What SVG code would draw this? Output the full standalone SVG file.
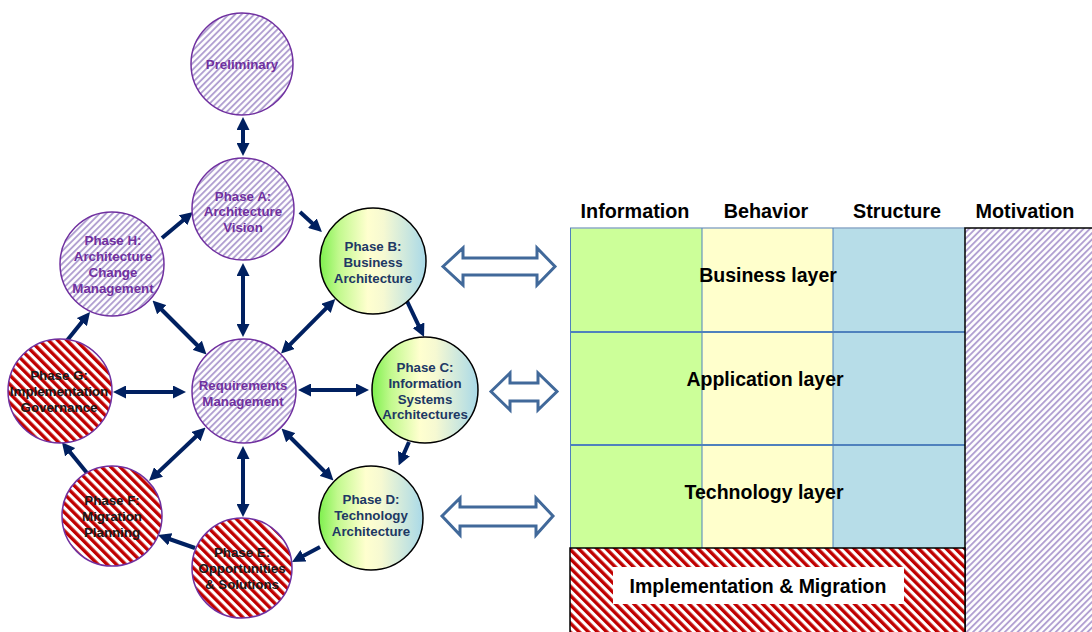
<svg xmlns="http://www.w3.org/2000/svg" width="1092" height="632" viewBox="0 0 1092 632">
<style>
text{font-family:"Liberation Sans",Arial,sans-serif;font-weight:bold;text-anchor:middle}
.pt{fill:#7030a0;font-size:13.3px}
.rt{fill:#1a1a1a;font-size:13.3px}
.gt{fill:#203864;font-size:13.3px}
.pc{fill:url(#purpleHatch);stroke:#7030a0;stroke-width:1.5}
.rc{fill:url(#redHatch);stroke:#7030a0;stroke-width:1.5}
.gc{fill:url(#grad);stroke:#000;stroke-width:1.5}
.ar{stroke:#002060;stroke-width:4;fill:none;marker-end:url(#ah)}
.dar{stroke:#002060;stroke-width:4;fill:none;marker-end:url(#ah);marker-start:url(#ahs)}
.blk{fill:#fff;stroke:#41699a;stroke-width:3;stroke-linejoin:miter}
.hdr{font-size:19.8px;fill:#000}
.lay{font-size:19.5px;fill:#000}
</style>
<defs>
<pattern id="purpleHatch" width="4.5" height="4.5" patternUnits="userSpaceOnUse" patternTransform="rotate(45)">
<rect width="4.5" height="4.5" fill="#fff"/>
<line x1="1" y1="0" x2="1" y2="4.5" stroke="#ad9bcf" stroke-width="1.8"/>
</pattern>
<pattern id="redHatch" width="6.5" height="6.5" patternUnits="userSpaceOnUse" patternTransform="rotate(-45)">
<rect width="6.5" height="6.5" fill="#fff"/>
<line x1="1.7" y1="0" x2="1.7" y2="6.5" stroke="#c00000" stroke-width="3.4"/>
</pattern>
<linearGradient id="grad" x1="0" y1="0" x2="1" y2="0">
<stop offset="0" stop-color="#7ef04e"/>
<stop offset="0.18" stop-color="#c2f98e"/>
<stop offset="0.45" stop-color="#ffffcf"/>
<stop offset="0.6" stop-color="#f6f9d2"/>
<stop offset="1" stop-color="#a9d9e8"/>
</linearGradient>
<marker id="ah" markerUnits="userSpaceOnUse" markerWidth="13" markerHeight="13" refX="1" refY="6.5" orient="auto">
<path d="M0,0 L13,6.5 L0,13 z" fill="#002060"/>
</marker>
<marker id="ahs" markerUnits="userSpaceOnUse" markerWidth="13" markerHeight="13" refX="1" refY="6.5" orient="auto-start-reverse">
<path d="M0,0 L13,6.5 L0,13 z" fill="#002060"/>
</marker>
</defs>

<g id="connectors">
<line class="dar" x1="243" y1="129" x2="243" y2="144"/>
<line class="ar" x1="162" y1="238" x2="183.8" y2="219.7"/>
<line class="ar" x1="300" y1="212" x2="313.1" y2="223.9"/>
<line class="ar" x1="406" y1="299" x2="418.9" y2="326.1"/>
<line class="ar" x1="409" y1="442" x2="403.5" y2="454.5"/>
<line class="ar" x1="320" y1="547" x2="302.6" y2="556.3"/>
<line class="ar" x1="195" y1="548" x2="169.3" y2="539"/>
<line class="ar" x1="87" y1="473" x2="69.5" y2="451.5"/>
<line class="ar" x1="65" y1="343" x2="82.5" y2="321.3"/>
<line class="dar" x1="243" y1="275" x2="243" y2="325"/>
<line class="dar" x1="161" y1="309" x2="198" y2="346"/>
<line class="dar" x1="289.5" y1="345.1" x2="326.8" y2="307.6"/>
<line class="dar" x1="125" y1="392" x2="174" y2="392"/>
<line class="dar" x1="310" y1="390" x2="357" y2="390"/>
<line class="dar" x1="196.8" y1="435.8" x2="157.8" y2="472.6"/>
<line class="dar" x1="243" y1="458" x2="243" y2="505"/>
<line class="dar" x1="290" y1="437" x2="325" y2="472"/>
<polygon class="blk" points="443,266.5 463,248 463,258 537,258 537,248 555,266.5 537,285 537,275 463,275 463,285"/>
<polygon class="blk" points="491,391.5 510,373 510,383 538,383 538,373 557,391.5 538,410 538,401 510,401 510,410"/>
<polygon class="blk" points="442,516 460,498 460,507 536,507 536,498 553,516 536,535 536,526 460,526 460,535"/>
</g>

<g id="preliminary">
<circle class="pc" cx="242" cy="64" r="51"/>
<text class="pt" x="242" y="69">Preliminary</text>
</g>
<g id="phaseA">
<circle class="pc" cx="243" cy="209" r="51"/>
<text class="pt" x="243" y="201">Phase A:</text>
<text class="pt" x="243" y="216">Architecture</text>
<text class="pt" x="243" y="232">Vision</text>
</g>
<g id="phaseH">
<circle class="pc" cx="112" cy="264" r="52"/>
<text class="pt" x="113" y="245">Phase H:</text>
<text class="pt" x="113" y="261">Architecture</text>
<text class="pt" x="113" y="277">Change</text>
<text class="pt" x="113" y="293">Management</text>
</g>
<g id="phaseB">
<circle class="gc" cx="373" cy="261" r="53"/>
<text class="gt" x="373" y="251">Phase B:</text>
<text class="gt" x="373" y="267">Business</text>
<text class="gt" x="373" y="283">Architecture</text>
</g>
<g id="phaseC">
<circle class="gc" cx="425" cy="390" r="53"/>
<text class="gt" x="425" y="372">Phase C:</text>
<text class="gt" x="425" y="388">Information</text>
<text class="gt" x="425" y="404">Systems</text>
<text class="gt" x="425" y="419">Architectures</text>
</g>
<g id="requirements">
<circle class="pc" cx="244" cy="391" r="52"/>
<text class="pt" x="243" y="390">Requirements</text>
<text class="pt" x="243" y="406">Management</text>
</g>
<g id="phaseG">
<circle class="rc" cx="60" cy="391" r="52"/>
<text class="rt" x="59" y="380">Phase G:</text>
<text class="rt" x="59" y="396">Implementation</text>
<text class="rt" x="59" y="412">Governance</text>
</g>
<g id="phaseF">
<circle class="rc" cx="112" cy="516" r="50"/>
<text class="rt" x="112" y="505">Phase F:</text>
<text class="rt" x="112" y="521">Migration</text>
<text class="rt" x="112" y="537">Planning</text>
</g>
<g id="phaseE">
<circle class="rc" cx="242" cy="568" r="50"/>
<text class="rt" x="242" y="557">Phase E:</text>
<text class="rt" x="242" y="573">Opportunities</text>
<text class="rt" x="242" y="589">&amp; Solutions</text>
</g>
<g id="phaseD">
<circle class="gc" cx="371" cy="518" r="52"/>
<text class="gt" x="371" y="504">Phase D:</text>
<text class="gt" x="371" y="520">Technology</text>
<text class="gt" x="371" y="536">Architecture</text>
</g>

<g id="table">
<rect x="570" y="228" width="132" height="320" fill="#ccff99"/>
<rect x="702" y="228" width="131" height="320" fill="#ffffcc"/>
<rect x="833" y="228" width="132" height="320" fill="#b7dde8"/>
<line x1="570" y1="228" x2="965" y2="228" stroke="#8eaac8" stroke-width="1.5"/>
<line x1="570.5" y1="228" x2="570.5" y2="548" stroke="#4f81bd" stroke-width="1"/>
<line x1="702" y1="228" x2="702" y2="548" stroke="#4f81bd" stroke-width="1"/>
<line x1="833" y1="228" x2="833" y2="548" stroke="#4f81bd" stroke-width="1"/>
<line x1="570" y1="332" x2="965" y2="332" stroke="#4f81bd" stroke-width="2"/>
<line x1="570" y1="445" x2="965" y2="445" stroke="#4f81bd" stroke-width="2"/>
<text class="hdr" x="635" y="218">Information</text>
<text class="hdr" x="766" y="218">Behavior</text>
<text class="hdr" x="897" y="218">Structure</text>
<text class="hdr" x="1025" y="218">Motivation</text>
<text class="lay" x="768" y="282">Business layer</text>
<text class="lay" x="765" y="386">Application layer</text>
<text class="lay" x="764" y="499">Technology layer</text>
</g>
<g id="motivation">
<rect x="965" y="228" width="130" height="410" fill="url(#purpleHatch)" stroke="#000" stroke-width="1.5"/>
</g>
<g id="implementation">
<rect x="570" y="548" width="395" height="90" fill="url(#redHatch)" stroke="#000" stroke-width="1.5"/>
<rect x="613" y="567" width="291" height="37" fill="#fff"/>
<text class="lay" x="758" y="593">Implementation &amp; Migration</text>
</g>
</svg>
